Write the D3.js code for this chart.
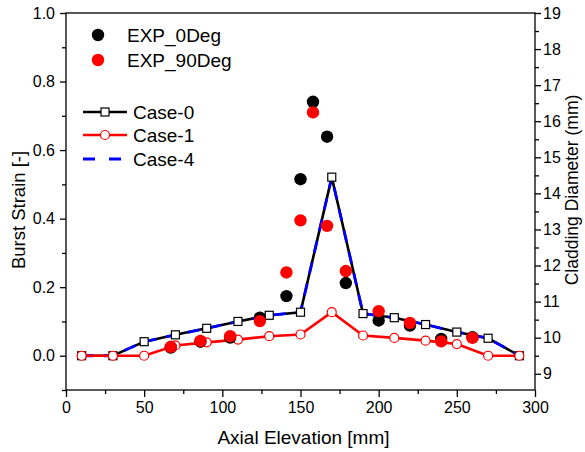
<!DOCTYPE html>
<html><head><meta charset="utf-8">
<script src="https://cdn.jsdelivr.net/npm/d3@7"></script>
<style>body{margin:0;background:#fff}svg text{font-family:"Liberation Sans",Arial,sans-serif;fill:#000}</style>
</head><body><svg id="c" width="585" height="452"></svg>
<script>
const caseX = [10,30,50,70,90,110,130,150,170,190,210,230,250,270,290];
const case0 = [0,0,0.041,0.061,0.080,0.100,0.118,0.127,0.521,0.123,0.111,0.091,0.069,0.051,0];
const case1 = [0,0,0,0.030,0.039,0.047,0.057,0.062,0.127,0.059,0.052,0.044,0.034,0,0];
const case4 = [0,0,0.041,0.061,0.080,0.100,0.118,0.127,0.521,0.123,0.111,0.091,0.069,0.051,0];
const expX = [67,86,105,124,141,150,158,167,179,200,220,240,260];
const exp0 = [0.024,0.041,0.053,0.111,0.174,0.515,0.741,0.639,0.212,0.103,0.088,0.049,0.054];
const exp90 = [0.026,0.043,0.057,0.101,0.243,0.395,0.710,0.379,0.247,0.130,0.096,0.042,0.052];
const xTicks = [0,50,100,150,200,250,300];
const yTicks = [0.0,0.2,0.4,0.6,0.8,1.0];
const rTicks = [9,10,11,12,13,14,15,16,17,18,19];

const svg = d3.select("#c");
const L=66,R=535,T=13,B=390;
const x = d3.scaleLinear().domain([0,300]).range([L,R]);
const y = d3.scaleLinear().domain([-0.1,1.0]).range([B,T]);
const yr = d3.scaleLinear().domain([9.5*0.9,19]).range([B,T]);

svg.append("rect").attr("x",L).attr("y",T).attr("width",R-L).attr("height",B-T)
  .attr("fill","none").attr("stroke","#000").attr("stroke-width",1.3);

function styleAxis(g){g.select(".domain").remove();g.selectAll("line").attr("stroke","#000").attr("stroke-width",1.3);
  g.selectAll("text").style("font-size","16px").style("font-family","Liberation Sans, Arial, sans-serif");}

svg.append("g").attr("transform",`translate(0,${B})`)
  .call(d3.axisBottom(x).tickValues(d3.range(25,300,50)).tickSize(4).tickFormat("")).call(styleAxis);
svg.append("g").attr("transform",`translate(0,${B})`)
  .call(d3.axisBottom(x).tickValues(xTicks).tickSize(7).tickPadding(5).tickFormat(d3.format("d"))).call(styleAxis);
svg.append("g").attr("transform",`translate(${L},0)`)
  .call(d3.axisLeft(y).tickValues([-0.1,0.1,0.3,0.5,0.7,0.9]).tickSize(4).tickFormat("")).call(styleAxis);
svg.append("g").attr("transform",`translate(${L},0)`)
  .call(d3.axisLeft(y).tickValues(yTicks).tickSize(6).tickPadding(5).tickFormat(d3.format(".1f"))).call(styleAxis);
svg.append("g").attr("transform",`translate(${R},0)`)
  .call(d3.axisRight(yr).tickValues(d3.range(9.5,19,1)).tickSize(4).tickFormat("")).call(styleAxis);
svg.append("g").attr("transform",`translate(${R},0)`)
  .call(d3.axisRight(yr).tickValues(rTicks).tickSize(6).tickPadding(2).tickFormat(d3.format("d"))).call(styleAxis);

svg.append("text").attr("x",(L+R)/2+3).attr("y",444).attr("text-anchor","middle").style("font-size","19px").text("Axial Elevation [mm]");
svg.append("text").attr("transform","translate(25,210) rotate(-90)").attr("text-anchor","middle").style("font-size","18.5px").text("Burst Strain [-]");
svg.append("text").attr("transform","translate(578,190) rotate(-90)").attr("text-anchor","middle").style("font-size","17.5px").text("Cladding Diameter (mm)");

const line = d3.line().x(d=>x(d[0])).y(d=>y(d[1]));
const d0 = caseX.map((v,i)=>[v,case0[i]]);
const d1 = caseX.map((v,i)=>[v,case1[i]]);
const d4 = caseX.map((v,i)=>[v,case4[i]]);
svg.append("path").datum(d0).attr("d",line).attr("fill","none").attr("stroke","#000").attr("stroke-width",2.6);
svg.append("path").datum(d4).attr("d",line).attr("fill","none").attr("stroke","#0000ff").attr("stroke-width",2.8).attr("stroke-dasharray","12,10");
svg.append("path").datum(d1).attr("d",line).attr("fill","none").attr("stroke","#ff0000").attr("stroke-width",2.6);

svg.append("g").selectAll("rect").data(d0).join("rect")
  .attr("x",d=>x(d[0])-4).attr("y",d=>y(d[1])-4).attr("width",8).attr("height",8)
  .attr("fill","#fff").attr("stroke","#000").attr("stroke-width",1.2);
svg.append("g").selectAll("circle").data(d1).join("circle")
  .attr("cx",d=>x(d[0])).attr("cy",d=>y(d[1])).attr("r",4.5)
  .attr("fill","#fff").attr("stroke","#ff0000").attr("stroke-width",1.2);

svg.append("g").selectAll("circle").data(expX.map((v,i)=>[v,exp0[i]])).join("circle")
  .attr("cx",d=>x(d[0])).attr("cy",d=>y(d[1])).attr("r",6.2).attr("fill","#000");
svg.append("g").selectAll("circle").data(expX.map((v,i)=>[v,exp90[i]])).join("circle")
  .attr("cx",d=>x(d[0])).attr("cy",d=>y(d[1])).attr("r",6.2).attr("fill","#ff0000");

const lg = svg.append("g");
lg.append("circle").attr("cx",98).attr("cy",35).attr("r",6.2).attr("fill","#000");
lg.append("text").attr("x",127).attr("y",35).attr("dy","0.35em").style("font-size","19px").text("EXP_0Deg");
lg.append("circle").attr("cx",98).attr("cy",60).attr("r",6.2).attr("fill","#ff0000");
lg.append("text").attr("x",127).attr("y",60).attr("dy","0.35em").style("font-size","19px").text("EXP_90Deg");

const ly=[112,135,159];
lg.append("line").attr("x1",83).attr("x2",127).attr("y1",ly[0]).attr("y2",ly[0]).attr("stroke","#000").attr("stroke-width",2.6);
lg.append("rect").attr("x",101).attr("y",ly[0]-4).attr("width",8).attr("height",8).attr("fill","#fff").attr("stroke","#000").attr("stroke-width",1.2);
lg.append("line").attr("x1",83).attr("x2",127).attr("y1",ly[1]).attr("y2",ly[1]).attr("stroke","#ff0000").attr("stroke-width",2.6);
lg.append("circle").attr("cx",105).attr("cy",ly[1]).attr("r",4.5).attr("fill","#fff").attr("stroke","#ff0000").attr("stroke-width",1.2);
lg.append("line").attr("x1",83).attr("x2",127).attr("y1",ly[2]).attr("y2",ly[2]).attr("stroke","#0000ff").attr("stroke-width",2.8).attr("stroke-dasharray","12,14");
["Case-0","Case-1","Case-4"].forEach((t,i)=>lg.append("text").attr("x",133).attr("y",ly[i]).attr("dy","0.35em").style("font-size","19px").text(t));
</script></body></html>
